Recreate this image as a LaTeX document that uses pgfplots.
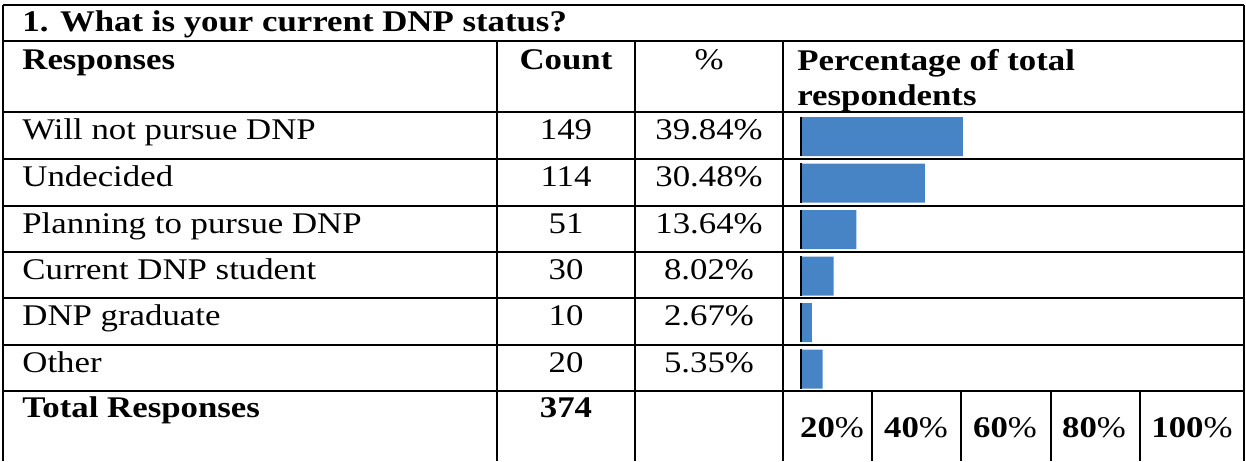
\documentclass[border=0pt]{standalone}
\usepackage{fontspec}
\setmainfont{Liberation Serif}
\usepackage{graphicx}
\usepackage{pgfplots}
\pgfplotsset{compat=1.18}
\definecolor{barblue}{RGB}{70,132,198}
\newcommand\T[1]{\scalebox{1.16}[1]{\fontsize{15}{17}\selectfont #1}}
\pgfplotstableread{
y pct
1 39.84
2 30.48
3 13.64
4 8.02
5 2.67
6 5.35
}\pcttable
\begin{document}
\begin{tikzpicture}
\begin{scope}[x=0.5pt,y=-0.5pt,txt/.style={inner sep=0pt}]
\path[use as bounding box] (0,0) rectangle (1246,461);
% horizontal rules
\foreach \yy in {5,41,112,159,206,252,298,345,391}
  \draw[line width=1pt] (3,\yy) -- (1244,\yy);
% vertical rules
\draw[line width=1pt] (3,5) -- (3,461);
\draw[line width=1pt] (1244,5) -- (1244,461);
\foreach \xx in {497,635,783}
  \draw[line width=1pt] (\xx,41) -- (\xx,461);
\foreach \xx in {872,961,1051,1140}
  \draw[line width=1pt] (\xx,391) -- (\xx,461);
% title and headers
\node[txt,anchor=base west] at (22,31) {\T{\textbf{1. What is your current DNP status?}}};
\node[txt,anchor=base west] at (22,69) {\T{\textbf{Responses}}};
\node[txt,anchor=base] at (566,69) {\T{\textbf{Count}}};
\node[txt,anchor=base] at (709,69) {\T{\%}};
\node[txt,anchor=base west] at (797,70) {\T{\textbf{Percentage of total}}};
\node[txt,anchor=base west] at (797,105) {\T{\textbf{respondents}}};
% rows
\node[txt,anchor=base west] at (22,139) {\T{Will not pursue DNP}};
\node[txt,anchor=base west] at (22,186) {\T{Undecided}};
\node[txt,anchor=base west] at (22,233) {\T{Planning to pursue DNP}};
\node[txt,anchor=base west] at (22,279) {\T{Current DNP student}};
\node[txt,anchor=base west] at (22,325) {\T{DNP graduate}};
\node[txt,anchor=base west] at (22,372) {\T{Other}};
\node[txt,anchor=base] at (566,139) {\T{149}};
\node[txt,anchor=base] at (566,186) {\T{114}};
\node[txt,anchor=base] at (566,233) {\T{51}};
\node[txt,anchor=base] at (566,279) {\T{30}};
\node[txt,anchor=base] at (566,325) {\T{10}};
\node[txt,anchor=base] at (566,372) {\T{20}};
\node[txt,anchor=base] at (709,139) {\T{39.84\%}};
\node[txt,anchor=base] at (709,186) {\T{30.48\%}};
\node[txt,anchor=base] at (709,233) {\T{13.64\%}};
\node[txt,anchor=base] at (709,279) {\T{8.02\%}};
\node[txt,anchor=base] at (709,325) {\T{2.67\%}};
\node[txt,anchor=base] at (709,372) {\T{5.35\%}};
% total row
\node[txt,anchor=base west] at (22,417) {\T{\textbf{Total Responses}}};
\node[txt,anchor=base] at (566,417) {\T{\textbf{374}}};
\node[txt,anchor=base] at (832,437) {\T{\textbf{20}\%}};
\node[txt,anchor=base] at (916,437) {\T{\textbf{40}\%}};
\node[txt,anchor=base] at (1005,437) {\T{\textbf{60}\%}};
\node[txt,anchor=base] at (1094,437) {\T{\textbf{80}\%}};
\node[txt,anchor=base] at (1192,437) {\T{\textbf{100}\%}};
\end{scope}
% bars
\begin{axis}[
  at={(400.5pt,-56.625pt)}, anchor=north west,
  scale only axis, width=203pt, height=139.5pt,
  xmin=0, xmax=100, ymin=0.5, ymax=6.5, y dir=reverse,
  hide axis, clip=false,
  xbar, bar width=19.5pt,
]
\addplot[draw=none, fill=barblue] table[x=pct, y=y] {\pcttable};
\pgfplotsinvokeforeach{1,...,6}{
  \draw[line width=1.1pt, black] (axis cs:0,{#1-0.42}) -- (axis cs:0,{#1+0.42});
}
\end{axis}
\end{tikzpicture}
\end{document}
